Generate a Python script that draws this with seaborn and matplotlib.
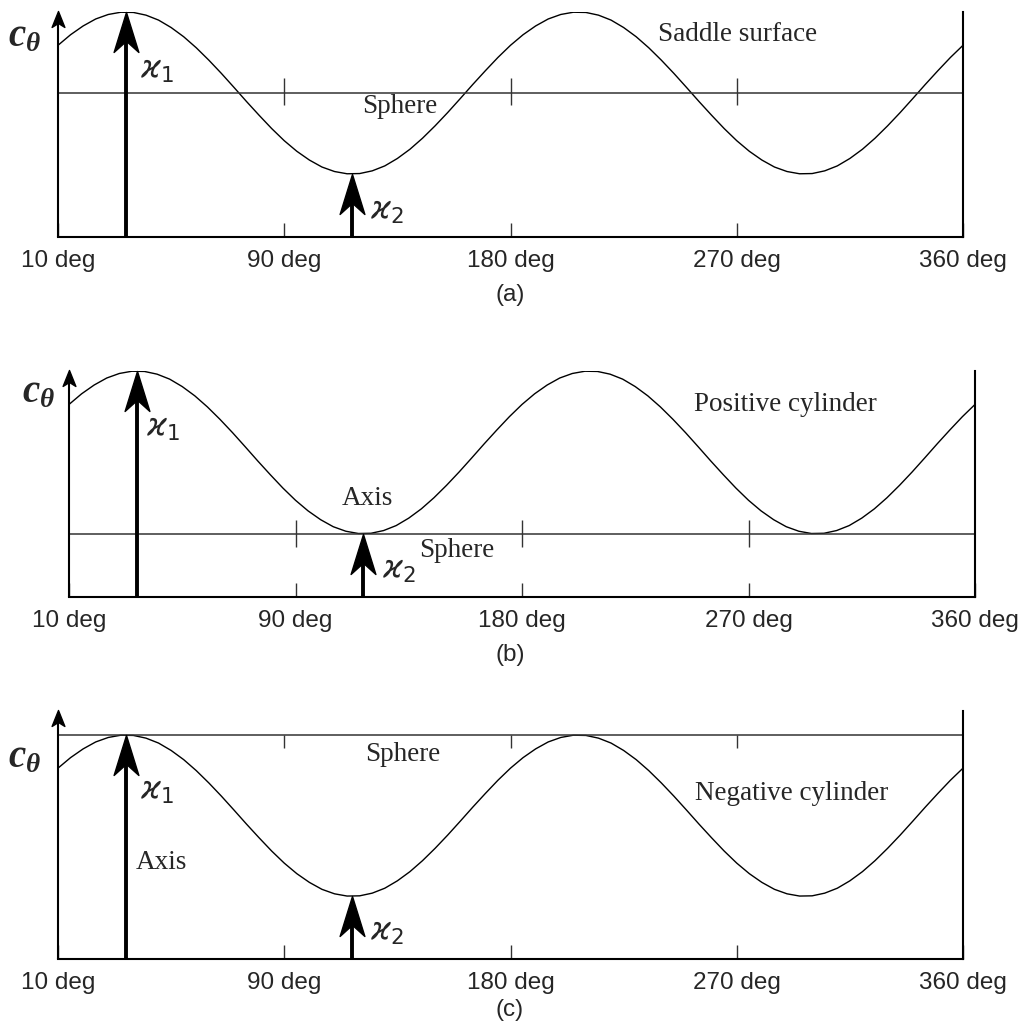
import numpy as np
import pandas as pd
import seaborn as sns
import matplotlib.pyplot as plt
from matplotlib.path import Path

# normal curvature c_theta, every 5 deg (bottom of frame = 0, top of curve = 1)
theta = list(range(0, 365, 5))
c_theta = [0.852, 0.899, 0.938, 0.969, 0.989, 0.999, 0.998, 0.986, 0.964, 0.931,
           0.890, 0.841, 0.786, 0.727, 0.665, 0.602, 0.541, 0.482, 0.428, 0.381,
           0.342, 0.311, 0.291, 0.281, 0.282, 0.294, 0.316, 0.349, 0.390, 0.439,
           0.494, 0.553, 0.615, 0.678, 0.739, 0.798,
           0.852, 0.899, 0.938, 0.969, 0.989, 0.999, 0.998, 0.986, 0.964, 0.931,
           0.890, 0.841, 0.786, 0.727, 0.665, 0.602, 0.541, 0.482, 0.428, 0.381,
           0.342, 0.311, 0.291, 0.281, 0.282, 0.294, 0.316, 0.349, 0.390, 0.439,
           0.494, 0.553, 0.615, 0.678, 0.739, 0.798,
           0.852]

k_theta = [27, 117]          # directions of kappa1, kappa2
k_value = [1.0, 0.28]        # kappa1 (max), kappa2 (min)
sphere_level = [0.64, 0.28, 1.0]
panel_top = [1.0, 1.0, 1.107]
panel_names = ['(a)', '(b)', '(c)']
surface_names = ['Saddle surface', 'Positive cylinder', 'Negative cylinder']
tick_pos = [0, 90, 180, 270, 360]
tick_labels = ['10 deg', '90 deg', '180 deg', '270 deg', '360 deg']

sns.set_style('white')
plt.rcParams['font.family'] = ['Liberation Sans', 'DejaVu Sans']
plt.rcParams['mathtext.fontset'] = 'custom'
plt.rcParams['mathtext.it'] = 'Liberation Serif:italic:bold'
plt.rcParams['mathtext.rm'] = 'Liberation Serif:bold'

df = pd.DataFrame({'theta': theta, 'c': c_theta})

# stealth style arrow heads, tip at (0, 0)
codes = [Path.MOVETO, Path.LINETO, Path.LINETO, Path.LINETO, Path.CLOSEPOLY]
big_head = Path([(0, 0), (-0.31, -1), (0, -0.72), (0.31, -1), (0, 0)], codes)
small_head = Path([(0, 0), (-0.4, -1), (0, -0.75), (0.4, -1), (0, 0)], codes)

fig = plt.figure(figsize=(10.21, 10.28), dpi=100)
W, H = 1021, 1028
# pixel boxes: left, right, bottom, px per unit
boxes = [(58, 963, 237, 225), (69, 975, 597, 226), (58, 963, 959, 224)]

serif = 'Liberation Serif'
# text spots for each panel
k1_txt = [(32.6, 0.742), (30.6, 0.748), (32.6, 0.75)]
k2_txt = [(124, 0.116), (124.4, 0.12), (124, 0.12)]
sphere_txt = [(136, 0.582), (154, 0.204), (137, 0.915)]
surf_txt = [(270.5, 0.898), (284.5, 0.85), (292, 0.741)]
axis_txt = [None, (118.4, 0.434), (31, 0.433)]
ctheta_y = [0.89, 0.907, 0.90]
label_y = [295, 655, 1010]

for i in range(3):
    x0, x1, yb, sc = boxes[i]
    top = panel_top[i]
    ax = fig.add_axes([x0 / W, 1 - yb / H, (x1 - x0) / W, top * sc / H])
    ax.set_xlim(0, 360)
    ax.set_ylim(0, top)

    sns.lineplot(data=df, x='theta', y='c', ax=ax, color='black', lw=1.0)

    # sphere line with small ticks
    s = sphere_level[i]
    ax.axhline(s, color='#333333', lw=1.1)
    d = 0.06
    lo = s - d
    hi = s + d if i < 2 else s
    if i == 0:
        lo, hi = s - 0.052, s + 0.067
    ax.vlines(tick_pos[1:4], lo, hi, color='#333333', lw=1.0)

    # y axis arrow
    ax.plot([0, 0], [0, top - 0.03], color='black', lw=1.5, clip_on=False,
            solid_capstyle='butt')
    ax.plot([0], [top + 0.005], marker=small_head, ms=23, color='black',
            clip_on=False, lw=0)

    # kappa arrows
    for kt, kv in zip(k_theta, k_value):
        ax.plot([kt, kt], [0, kv - 0.1], color='black', lw=2.8,
                solid_capstyle='butt', clip_on=False)
        ax.plot([kt], [kv], marker=big_head, ms=57.6, color='black',
                lw=0, clip_on=False)

    ax.text(*k1_txt[i], r'$\varkappa_1$', math_fontfamily='dejavusans',
            fontsize=22, ha='left', va='center')
    ax.text(*k2_txt[i], r'$\varkappa_2$', math_fontfamily='dejavusans',
            fontsize=22, ha='left', va='center')
    ax.text(*sphere_txt[i], 'Sphere', family=serif, fontsize=19.5,
            ha='center', va='center')
    ax.text(*surf_txt[i], surface_names[i], family=serif, fontsize=19.5,
            ha='center', va='center')
    if axis_txt[i] is not None:
        ha = 'center' if i == 1 else 'left'
        ax.text(*axis_txt[i], 'Axis', family=serif, fontsize=19.5,
                ha=ha, va='center')
    ax.text(-20 if i != 1 else -18.7, ctheta_y[i], r'$c_\theta$', fontsize=28,
            ha='left', va='center')

    for side in ['top', 'left']:
        ax.spines[side].set_visible(False)
    for side in ['bottom', 'right']:
        ax.spines[side].set_linewidth(1.5)
        ax.spines[side].set_color('black')

    ax.set_xticks(tick_pos)
    ax.set_xticklabels(tick_labels, fontsize=17.5)
    ax.set_yticks([])
    ax.tick_params(axis='x', bottom=True, direction='in', length=10, width=1.0,
                   pad=9, color='#333333')
    ax.set_xlabel('')
    ax.set_ylabel('')
    ax.set_facecolor('none')

    fig.text(510 / W, 1 - label_y[i] / H, panel_names[i], fontsize=17.5,
             ha='center', va='center')

fig.savefig('out.png', dpi=100, facecolor='white')
